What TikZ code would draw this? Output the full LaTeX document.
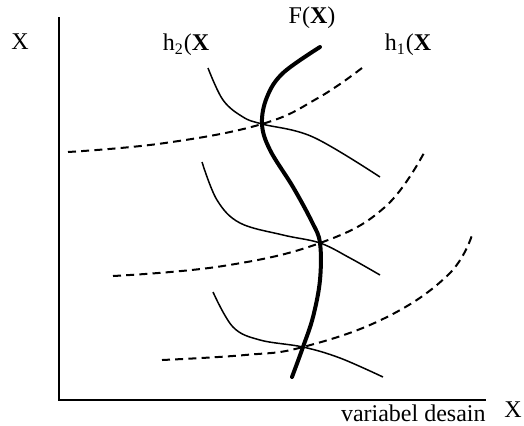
\documentclass[tikz,border=0pt]{standalone}
\usepackage{fontspec}
\setmainfont{Liberation Serif}
\usetikzlibrary{positioning}

\begin{document}
\begin{tikzpicture}[x=0.5pt, y=-0.5pt, font=\fontsize{12}{14}\selectfont,
  axis/.style={line width=1pt},
  fcurve/.style={line width=2pt, line cap=round},
  hcurve/.style={line width=0.75pt},
  gcurve/.style={line width=1pt, dash pattern=on 4pt off 2.6pt},
  lbl/.style={inner sep=0pt}]
\useasboundingbox (0,0) rectangle (524,425);
% axes
\coordinate (o) at (59,400);
\coordinate (ytop) at (59,17);
\coordinate (xend) at (486,400);
\draw[axis] (ytop) -- (o) -- (xend);
\node[lbl] (ylab) at (20,42) {X};
\node[lbl] (xlab) at (513,410) {X};
\node[lbl, anchor=north east] (xdesc) at (486,404) {variabel desain};
% crossing points
\coordinate (p1) at (262,124);
\coordinate (p2) at (320,243);
\coordinate (p3) at (303,347);
% F(X)
\draw[fcurve] plot[smooth, tension=0.6] coordinates {(320,47) (283,73) (267,97) (p1) (270,150) (293,187) (312,222) (p2) (320,280) (313,317) (p3) (292,377)};
\node[lbl] (flab) at (312,18) {F(\textbf{X})};
% h2(X)
\draw[hcurve] plot[smooth, tension=0.6] coordinates {(208,68) (223,100) (243,117) (p1) (313,137) (380,177)};
\draw[hcurve] plot[smooth, tension=0.6] coordinates {(202,162) (217,200) (240,223) (283,235) (p2) (350,258) (380,275)};
\draw[hcurve] plot[smooth, tension=0.6] coordinates {(213,292) (233,327) (260,340) (p3) (340,358) (383,377)};
\node[lbl] (h2lab) at (186,45) {h\textsubscript{2}(\textbf{X}};
% h1(X)
\draw[gcurve] plot[smooth, tension=0.7] coordinates {(68,152) (165,143) (p1) (318,98) (362,68)};
\draw[gcurve] plot[smooth, tension=0.7] coordinates {(113,276) (223,266) (p2) (385,207) (425,151)};
\draw[gcurve] plot[smooth, tension=0.7] coordinates {(162,360) (245,355) (p3) (385,318) (448,275) (472,235)};
\node[lbl] (h1lab) at (408,45) {h\textsubscript{1}(\textbf{X}};
\end{tikzpicture}
\end{document}
